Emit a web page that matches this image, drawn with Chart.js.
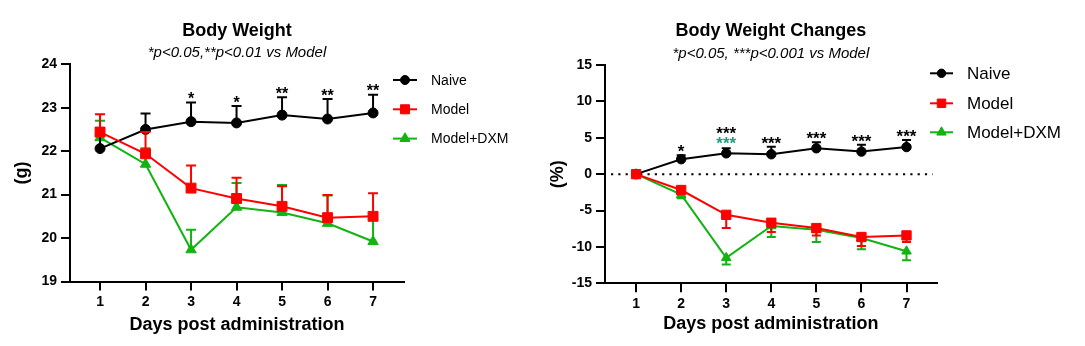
<!DOCTYPE html>
<html><head><meta charset="utf-8">
<script src="https://cdn.jsdelivr.net/npm/chart.js@4.4.0/dist/chart.umd.min.js"></script>
<style>
html,body{margin:0;padding:0;background:#fff;width:1085px;height:346px;overflow:hidden;}
#c1{position:absolute;left:0;top:0;}
#c2{position:absolute;left:540px;top:0;}
</style></head><body>
<canvas id="c1" width="540" height="346"></canvas>
<canvas id="c2" width="545" height="346"></canvas>
<script>
// ---------- data ----------
const days = [1, 2, 3, 4, 5, 6, 7];
const seriesNames = ['Naive', 'Model', 'Model+DXM'];

// Body weight (g), mean and SD (upward bars)
const bwNaive    = [22.06, 22.50, 22.68, 22.65, 22.83, 22.74, 22.88];
const bwNaiveSD  = [0.32, 0.37, 0.44, 0.39, 0.41, 0.46, 0.42];
const bwModel    = [22.44, 21.94, 21.15, 20.91, 20.73, 20.47, 20.50];
const bwModelSD  = [0.41, 0.50, 0.52, 0.48, 0.46, 0.52, 0.53];
const bwDXM      = [22.31, 21.70, 19.73, 20.71, 20.59, 20.34, 19.92];
const bwDXMSD    = [0.39, 0.37, 0.46, 0.56, 0.63, 0.64, 0.53];
const bwSigNaive = ['', '', '*', '*', '**', '**', '**'];
const bwTicks    = [19, 20, 21, 22, 23, 24];

// Body weight changes (%), mean and SD
const chgNaive    = [0, 2.05, 2.86, 2.73, 3.55, 3.10, 3.72];
const chgNaiveSD  = [0, 0.54, 0.69, 1.05, 0.82, 0.95, 0.96];
const chgModel    = [0, -2.18, -5.59, -6.68, -7.41, -8.64, -8.42];
const chgModelSD  = [0, 0.50, 1.82, 1.27, 1.01, 1.22, 0.90];
const chgDXM      = [0, -2.82, -11.50, -7.13, -7.64, -8.77, -10.60];
const chgDXMSD    = [0, 0.50, 0.91, 1.51, 1.68, 1.56, 1.23];
const chgSigNaive = ['', '*', '***', '***', '***', '***', '***'];
const chgSigDXM   = ['', '', '***', '', '', '', ''];
const chgTicks    = [-15, -10, -5, 0, 5, 10, 15];

// ---------- styling ----------
const FONT = "'Liberation Sans', Arial, Helvetica, sans-serif";
const BLACK = '#000000', RED = '#ff0000', GREEN = '#12b312', TEAL = '#1f9f7f';

function drawMarker(ctx, style, x, y, r, color) {
  ctx.save();
  ctx.fillStyle = color; ctx.strokeStyle = color; ctx.lineWidth = 1;
  ctx.beginPath();
  if (style === 'circle') {
    ctx.arc(x, y, r, 0, Math.PI * 2);
  } else if (style === 'rect') {
    const s = r * Math.SQRT1_2;
    ctx.rect(x - s, y - s, 2 * s, 2 * s);
  } else {
    let a = 0;
    ctx.moveTo(x + Math.sin(a) * r, y - Math.cos(a) * r);
    a += 2 * Math.PI / 3;
    ctx.lineTo(x + Math.sin(a) * r, y - Math.cos(a) * r);
    a += 2 * Math.PI / 3;
    ctx.lineTo(x + Math.sin(a) * r, y - Math.cos(a) * r);
  }
  ctx.closePath(); ctx.fill(); ctx.stroke();
  ctx.restore();
}

function makeDataset(label, values, errs, dir, color, style, radius, order) {
  return {
    label: label,
    data: days.map((d, i) => ({ x: d, y: values[i] })),
    errs: errs, errDir: dir,
    borderColor: color, backgroundColor: color,
    pointBackgroundColor: color, pointBorderColor: color,
    pointStyle: style, pointRadius: radius, pointHoverRadius: radius,
    pointBorderWidth: 1, borderWidth: 2, tension: 0, order: order
  };
}

function buildChart(id, g, datasets) {
  const ctxEl = document.getElementById(id);
  const W = ctxEl.width, H = ctxEl.height;
  const xAxisH = 30;

  const errPlugin = {
    id: 'errbars_' + id,
    beforeDatasetsDraw(chart) {
      if (!g.zeroLine) return;
      const ctx = chart.ctx, ys = chart.scales.y, a = chart.chartArea;
      const y0 = ys.getPixelForValue(0);
      ctx.save();
      ctx.strokeStyle = BLACK; ctx.lineWidth = 2;
      ctx.setLineDash([2.2, 5.1]);
      ctx.beginPath(); ctx.moveTo(a.left + 6, y0); ctx.lineTo(a.right - 4, y0); ctx.stroke();
      ctx.restore();
    },
    beforeDatasetDraw(chart, args) {
      const ds = chart.data.datasets[args.index];
      const ctx = chart.ctx, xs = chart.scales.x, ys = chart.scales.y;
      ctx.save();
      ctx.strokeStyle = ds.borderColor; ctx.lineWidth = 2;
      ds.data.forEach((p, i) => {
        const e = ds.errs[i];
        if (!e) return;
        const x = xs.getPixelForValue(p.x);
        const y0 = ys.getPixelForValue(p.y);
        const y1 = ys.getPixelForValue(p.y + ds.errDir * e);
        ctx.beginPath();
        ctx.moveTo(x, y0); ctx.lineTo(x, y1);
        ctx.moveTo(x - g.cap, y1); ctx.lineTo(x + g.cap, y1);
        ctx.stroke();
      });
      ctx.restore();
    }
  };

  const textPlugin = {
    id: 'texts_' + id,
    afterDraw(chart) {
      const ctx = chart.ctx, a = chart.chartArea, xs = chart.scales.x, ys = chart.scales.y;
      const cx = (a.left + a.right) / 2;
      ctx.save();
      ctx.fillStyle = BLACK;
      ctx.textAlign = 'center'; ctx.textBaseline = 'middle';
      ctx.font = 'bold 18px ' + FONT;
      ctx.fillText(g.title, cx, g.titleY);
      ctx.font = 'italic 15px ' + FONT;
      ctx.fillText(g.subtitle, cx, g.subY);
      ctx.font = 'bold 18px ' + FONT;
      ctx.fillText('Days post administration', cx, g.xTitleY);
      ctx.save();
      ctx.translate(g.yTitleX, (a.top + a.bottom) / 2);
      ctx.rotate(-Math.PI / 2);
      ctx.fillText(g.yTitle, 0, 0);
      ctx.restore();

      // legend
      const L = g.legend;
      chart.data.datasets.forEach((ds, i) => {
        const y = L.ys[i];
        ctx.strokeStyle = ds.borderColor; ctx.lineWidth = 2;
        ctx.beginPath(); ctx.moveTo(L.x0, y); ctx.lineTo(L.x1, y); ctx.stroke();
        drawMarker(ctx, ds.pointStyle, (L.x0 + L.x1) / 2, y, L.r[ds.pointStyle], ds.borderColor);
        ctx.fillStyle = BLACK;
        ctx.textAlign = 'left'; ctx.textBaseline = 'middle';
        ctx.font = L.size + 'px ' + FONT;
        ctx.fillText(ds.label, L.tx, y + 1);
      });

      // significance marks
      ctx.textAlign = 'center'; ctx.textBaseline = 'alphabetic';
      ctx.font = 'bold ' + g.sigSize + 'px ' + FONT;
      const nd = chart.data.datasets[0];
      g.sigs.forEach(sg => {
        sg.marks.forEach((m, i) => {
          if (!m) return;
          const x = xs.getPixelForValue(days[i]);
          const top = ys.getPixelForValue(nd.data[i].y + nd.errs[i]);
          ctx.fillStyle = sg.color;
          ctx.fillText(m, x, top + sg.dy);
        });
      });
      ctx.restore();
    }
  };

  return new Chart(ctxEl, {
    type: 'line',
    data: { datasets: datasets },
    options: {
      responsive: false, animation: false, events: [],
      layout: { padding: { left: 0, top: g.top, right: W - g.right, bottom: H - g.bottom - xAxisH } },
      plugins: { legend: { display: false }, title: { display: false }, tooltip: { enabled: false } },
      scales: {
        x: {
          type: 'linear', min: g.xMin, max: g.xMax,
          afterBuildTicks: s => { s.ticks = days.map(v => ({ value: v })); },
          afterFit: s => { s.height = xAxisH; },
          grid: { display: true, drawOnChartArea: false, drawTicks: true, tickLength: 9, color: BLACK, lineWidth: 2 },
          border: { display: true, color: BLACK, width: 2 },
          ticks: { color: BLACK, font: { family: FONT, size: 14, weight: 'bold' }, padding: 3, maxRotation: 0, autoSkip: false }
        },
        y: {
          type: 'linear', min: g.yMin, max: g.yMax,
          afterBuildTicks: s => { s.ticks = g.yTicks.map(v => ({ value: v })); },
          afterFit: s => { s.width = g.left; },
          grid: { display: true, drawOnChartArea: false, drawTicks: true, tickLength: 9, color: BLACK, lineWidth: 2 },
          border: { display: true, color: BLACK, width: 2 },
          ticks: { color: BLACK, font: { family: FONT, size: 14, weight: 'bold' }, padding: 4, autoSkip: false }
        }
      }
    },
    plugins: [errPlugin, textPlugin]
  });
}

// ---------- left chart ----------
buildChart('c1', {
  left: 70, right: 404, top: 64.3, bottom: 281.5,
  xMin: 0.34, xMax: 7.68, yMin: 19, yMax: 24, yTicks: bwTicks,
  title: 'Body Weight', subtitle: '*p<0.05,**p<0.01 vs Model',
  titleY: 31, subY: 53, xTitleY: 325, yTitle: '(g)', yTitleX: 22,
  cap: 5,
  legend: { x0: 393, x1: 417, tx: 431, ys: [80, 109.3, 138.6], size: 14, r: { circle: 4.5, rect: 6.4, triangle: 5.8 } },
  sigSize: 16,
  sigs: [{ marks: bwSigNaive, color: BLACK, dy: 1.5 }]
}, [
  makeDataset(seriesNames[0], bwNaive, bwNaiveSD, 1, BLACK, 'circle', 5, 1),
  makeDataset(seriesNames[1], bwModel, bwModelSD, 1, RED, 'rect', 7, 0),
  makeDataset(seriesNames[2], bwDXM, bwDXMSD, 1, GREEN, 'triangle', 6, 2)
]);

// ---------- right chart ----------
buildChart('c2', {
  left: 65, right: 396.7, top: 65, bottom: 283.3,
  xMin: 0.31, xMax: 7.67, yMin: -15, yMax: 15, yTicks: chgTicks,
  title: 'Body Weight Changes', subtitle: '*p<0.05, ***p<0.001 vs Model',
  titleY: 31, subY: 54, xTitleY: 324, yTitle: '(%)', yTitleX: 18,
  cap: 4.5, zeroLine: true,
  legend: { x0: 390, x1: 413, tx: 427, ys: [73.3, 103.3, 132.3], size: 17, r: { circle: 4.2, rect: 6, triangle: 5.5 } },
  sigSize: 17,
  sigs: [
    { marks: chgSigNaive.map((m, i) => (i === 2 ? '' : m)), color: BLACK, dy: 2 },
    { marks: chgSigNaive.map((m, i) => (i === 2 ? m : '')), color: BLACK, dy: -9.2 },
    { marks: chgSigDXM, color: TEAL, dy: 0.2 }
  ]
}, [
  makeDataset(seriesNames[0], chgNaive, chgNaiveSD, 1, BLACK, 'circle', 4.7, 1),
  makeDataset(seriesNames[1], chgModel, chgModelSD, -1, RED, 'rect', 6.6, 0),
  makeDataset(seriesNames[2], chgDXM, chgDXMSD, -1, GREEN, 'triangle', 5.5, 2)
]);
</script>
</body></html>
